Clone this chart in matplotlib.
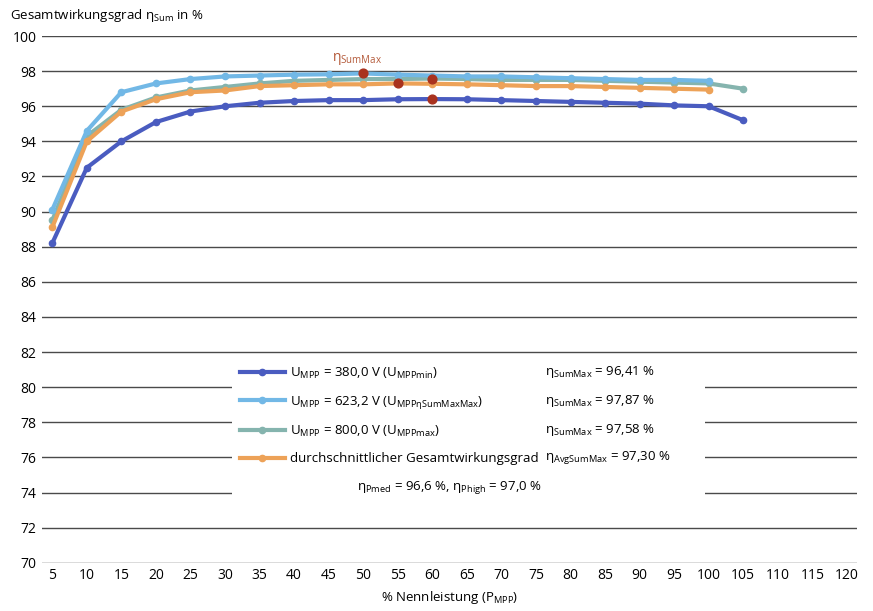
"""
Gesamtwirkungsgrad eines Wechselrichters ueber der Nennleistung
fuer drei MPP-Spannungen und den Mittelwert.
"""

import matplotlib
matplotlib.use("Agg")
import matplotlib.pyplot as plt
from matplotlib import font_manager as fm
from matplotlib.patches import Rectangle

# ----- Font -----
installed = {f.name for f in fm.fontManager.ttflist}
family = 'Liberation Sans Narrow' if 'Liberation Sans Narrow' in installed else 'Open Sans'
plt.rcParams['font.family'] = [family, 'DejaVu Sans']
plt.rcParams['mathtext.fontset'] = 'custom'
plt.rcParams['mathtext.rm'] = family
plt.rcParams['mathtext.default'] = 'regular'

# ----- Data -----
p_nenn = [5, 10, 15, 20, 25, 30, 35, 40, 45, 50, 55, 60, 65, 70, 75, 80, 85, 90, 95, 100, 105]
x_ticks = list(range(5, 125, 5))
y_ticks = list(range(70, 102, 2))

eta_380 = [88.2, 92.5, 94.0, 95.1, 95.7, 96.0, 96.2, 96.3, 96.35, 96.35, 96.4, 96.41,
           96.4, 96.35, 96.3, 96.25, 96.2, 96.15, 96.05, 96.0, 95.2]
eta_623 = [90.1, 94.6, 96.8, 97.3, 97.55, 97.7, 97.75, 97.8, 97.82, 97.87, 97.8, 97.75,
           97.7, 97.7, 97.65, 97.6, 97.55, 97.5, 97.5, 97.45]
eta_800 = [89.5, 94.3, 95.8, 96.5, 96.9, 97.1, 97.3, 97.45, 97.5, 97.55, 97.55, 97.58,
           97.55, 97.5, 97.5, 97.5, 97.45, 97.4, 97.35, 97.3, 97.0]
eta_avg = [89.1, 94.0, 95.7, 96.4, 96.8, 96.9, 97.15, 97.2, 97.25, 97.25, 97.3, 97.28,
           97.25, 97.2, 97.15, 97.15, 97.1, 97.05, 97.0, 96.95]

# maxima (x, eta)
max_x = [50, 55, 60, 60]
max_eta = [97.87, 97.30, 97.58, 96.41]

labels = [r'U$_{MPP}$ = 380,0 V (U$_{MPPmin}$)',
          r'U$_{MPP}$ = 623,2 V (U$_{MPP\eta SumMaxMax}$)',
          r'U$_{MPP}$ = 800,0 V (U$_{MPPmax}$)',
          'durchschnittlicher Gesamtwirkungsgrad']
eta_texts = [r'η$_{SumMax}$ = 96,41 %',
             r'η$_{SumMax}$ = 97,87 %',
             r'η$_{SumMax}$ = 97,58 %',
             r'η$_{AvgSumMax}$ = 97,30 %']
summary = r'η$_{Pmed}$ = 96,6 %, η$_{Phigh}$ = 97,0 %'

colors = {'380': '#4a5cc0', '623': '#72b8e6', '800': '#85b4ae', 'avg': '#eda258'}
red = '#a9321e'
fs = 9.5

# ----- Plot -----
fig = plt.figure(figsize=(8.73, 6.11), dpi=100)
ax = fig.add_axes([0.048, 0.079, 0.934, 0.862])

kw = dict(lw=3, marker='o', ms=4.5)
l800, = ax.plot(p_nenn, eta_800, color=colors['800'], **kw)
l623, = ax.plot(p_nenn[:len(eta_623)], eta_623, color=colors['623'], **kw)
lavg, = ax.plot(p_nenn[:len(eta_avg)], eta_avg, color=colors['avg'], **kw)
l380, = ax.plot(p_nenn, eta_380, color=colors['380'], **kw)
ax.scatter(max_x, max_eta, s=40, color=red, zorder=5)
ax.text(45.5, 98.6, r'η$_{SumMax}$', color='#b45a3a', fontsize=10)

ax.set_xlim(3.5, 121.5)
ax.set_ylim(70, 100)
ax.set_xticks(x_ticks)
ax.set_yticks(y_ticks)
ax.tick_params(length=0, labelsize=10, pad=4)
ax.grid(axis='y', color='#4a4a4a', lw=1)
ax.set_axisbelow(True)
for s in ax.spines.values():
    s.set_visible(False)
ax.set_xlabel(r'% Nennleistung (P$_{MPP}$)', fontsize=fs, labelpad=4)

# legend area
ax.add_patch(Rectangle((0.233, 0.11), 0.58, 0.275, transform=ax.transAxes,
                       fc='white', ec='none', zorder=2))
leg = ax.legend([l380, l623, l800, lavg], labels, loc='upper left',
                bbox_to_anchor=(0.228, 0.397), frameon=False, fontsize=fs,
                handlelength=3.4, handletextpad=0.4, labelspacing=1.0)
leg.set_zorder(3)
for y, t in zip([0.362, 0.307, 0.252, 0.199], eta_texts):
    ax.text(0.617, y, t, transform=ax.transAxes, fontsize=fs, va='center', zorder=4)
ax.text(0.5, 0.142, summary, transform=ax.transAxes, fontsize=fs,
        ha='center', va='center', zorder=4)

fig.text(0.011, 0.975, r'Gesamtwirkungsgrad η$_{Sum}$ in %', fontsize=fs, va='center')

fig.savefig('out.png', dpi=100)
